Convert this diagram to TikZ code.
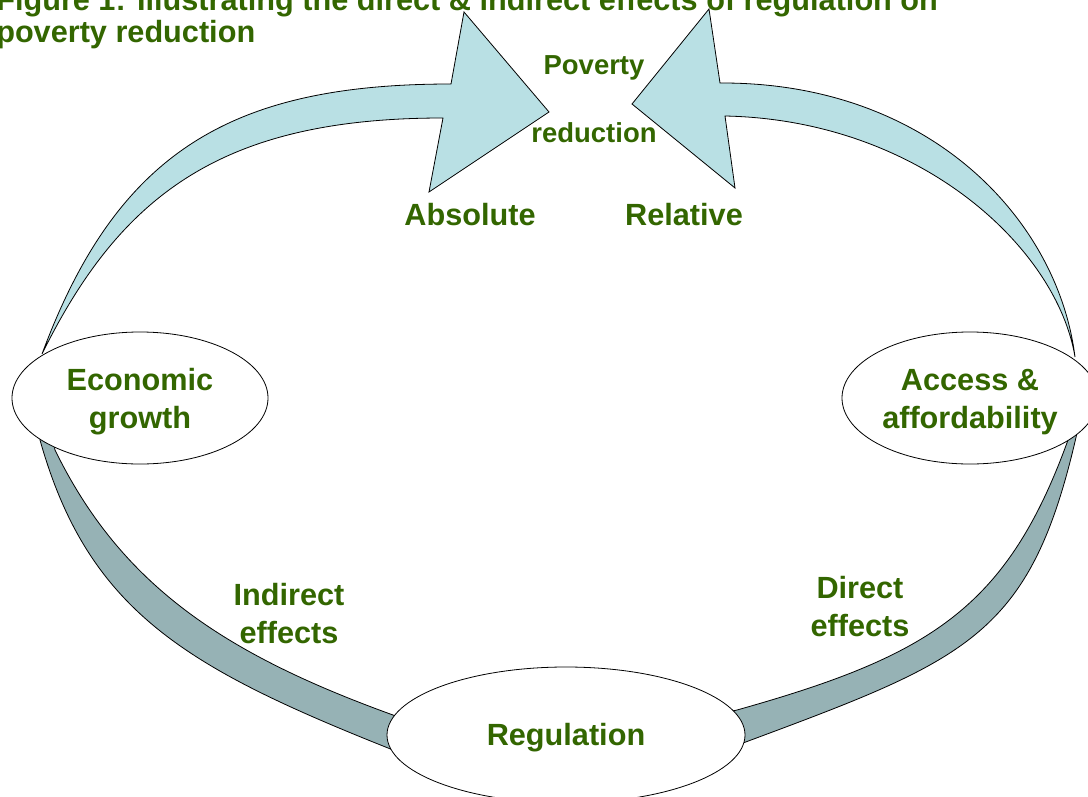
\documentclass[tikz,border=0pt]{standalone}
\usepackage{fontspec}
\setmainfont{Liberation Sans}
\usetikzlibrary{shapes.geometric}
\definecolor{txtgreen}{RGB}{51,102,0}
\definecolor{lightband}{RGB}{185,224,228}
\definecolor{darkband}{RGB}{150,178,181}
\begin{document}
\begin{tikzpicture}[x=0.75pt,y=-0.75pt,
  lbl/.style={text=txtgreen, font=\bfseries\fontsize{23}{28.5}\selectfont, align=center, inner sep=0pt},
  smalllbl/.style={text=txtgreen, font=\bfseries\fontsize{20.6}{24}\selectfont, inner sep=0pt},
  bubble/.style={ellipse, draw=black, fill=white, line width=0.6pt, inner sep=0pt,
    text=txtgreen, font=\bfseries\fontsize{23}{28.5}\selectfont, align=center},
  lightarrow/.style={fill=lightband, draw=black, line width=0.6pt, line join=miter},
  darkarrow/.style={fill=darkband, draw=black, line width=0.6pt}]
\useasboundingbox (0,0) rectangle (1088,796);
\clip (0,0) rectangle (1088,796);

% tail and head points of the block arrows
\coordinate (ltail) at (42,354);
\coordinate (rtail) at (1075,357);

% light block arrows towards poverty reduction
\filldraw[lightarrow] (ltail) .. controls (117,152) and (231,84) .. (451,84)
  -- (464,12) -- (549,112) -- (429,192) -- (443,118)
  .. controls (223,118) and (121,194) .. (ltail) -- cycle;
\filldraw[lightarrow] (rtail) .. controls (1058,220) and (930,82) .. (720,83)
  -- (709,9) -- (632,104) -- (735,188) -- (725,116)
  .. controls (920,120) and (1057,248) .. (rtail) -- cycle;

% dark bands from regulation
\filldraw[darkarrow] (39,415) -- (40,440) .. controls (88.6,612.8) and (188.4,668.6) .. (393,750)
  -- (430,762) -- (430,727) -- (393,715)
  .. controls (223.8,653.8) and (121,585) .. (55,450) -- (50,425) -- cycle;
\filldraw[darkarrow] (1080,410) -- (1077,433) .. controls (1030.8,636.7) and (968.6,659) .. (743,743)
  -- (715,752) -- (715,715) -- (737,710)
  .. controls (929,656) and (1006.8,609.2) .. (1068,440) -- (1070,415) -- cycle;

% ellipses
\node[bubble, minimum width=192pt, minimum height=99pt] (econ) at (140,398) {\rule{0pt}{22pt}Economic\\growth};
\node[bubble, minimum width=192pt, minimum height=99pt] (access) at (970,398) {\rule{0pt}{22pt}Access \&\\affordability};
\node[bubble, minimum width=268.5pt, minimum height=102pt] (reg) at (566,735) {\rule{0pt}{21pt}Regulation};

% labels
\node[smalllbl, anchor=base] (pov) at (594,74) {Poverty};
\node[smalllbl, anchor=base] (red) at (594,142) {reduction};
\node[lbl, anchor=base] (abs) at (470,225) {Absolute};
\node[lbl, anchor=base] (rel) at (684,225) {Relative};
\node[lbl, anchor=north] (ind) at (289,573) {\rule{0pt}{24pt}Indirect\\effects};
\node[lbl, anchor=north] (dir) at (860,566) {\rule{0pt}{24pt}Direct\\effects};

% title
\node[anchor=north west, align=left, text=txtgreen, inner sep=0pt,
  font=\bfseries\fontsize{23}{24}\selectfont] (title) at (-4,-22)
  {\rule{0pt}{24pt}Figure 1: Illustrating the direct \& indirect effects of regulation on\\poverty reduction};
\end{tikzpicture}
\end{document}
